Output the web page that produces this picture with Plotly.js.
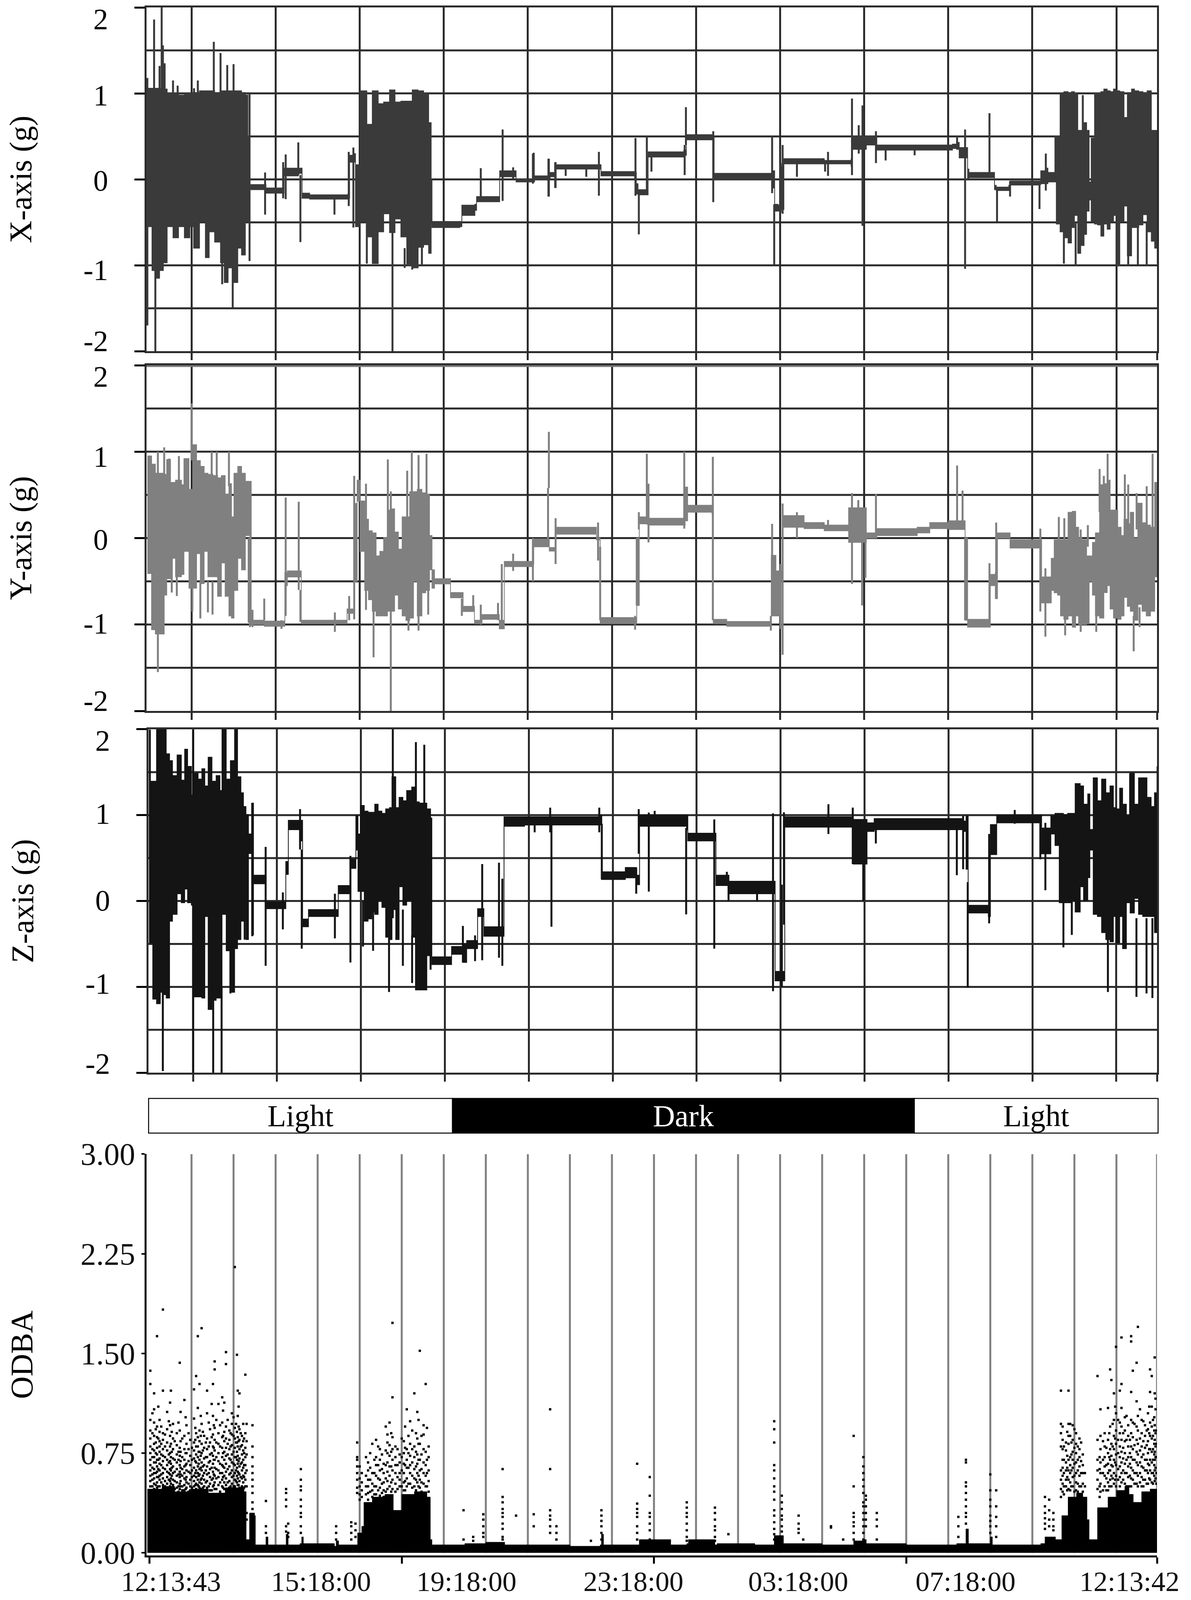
<!DOCTYPE html>
<html><head><meta charset="utf-8">
<script src="https://cdn.plot.ly/plotly-3.0.1.min.js"></script>
<style>html,body{margin:0;padding:0;background:#fff;overflow:hidden}</style></head>
<body><div id="chart" style="width:3048px"></div>
<script>
// ---------- shared labels ----------
const xTimeLabels = ['12:13:43','15:18:00','19:18:00','23:18:00','03:18:00','07:18:00','12:13:42'];
const xTimeLabelPos = [0.51,4.08,7.54,11.51,15.43,19.41,23.31];
const xMajorTicks = [0,6,12,18,23.965];
const panelGridHours = [1,3,5,7,9,11,13,15,17,19,21,23];
const odbaGridHours = [1,2,3,4,5,6,7,8,9,10,11,12,13,14,15,16,17,18,19,20,21,22,23,23.965];
const accelGrid = [-1.5,-1,-0.5,0,0.5,1,1.5];
const accelTicks = [-2,-1,0,1,2];
const accelTickText = ['2','1','0','-1','-2'];
const odbaTicks = [0,0.75,1.5,2.25,3];
const odbaTickText = ['0.00','0.75','1.50','2.25','3.00'];

// ---------- X-axis (g): envelope columns ----------
const xH  = [-.05,.06,.15,.24,.33,.42,.56,.69,.83,.96,1.05,1.19,1.33,1.42,1.55,1.69,1.78,1.87,1.98,2.10,2.19,2.28,2.34,2.36,2.73,2.77,3.15,3.2,3.54,3.63,3.81,4.72,4.76,4.87,4.90,5.01,5.17,5.30,5.44,5.57,5.71,5.84,5.98,6.12,6.25,6.39,6.52,6.64,6.70,6.72,7.38,7.43,7.74,7.78,8.28,8.33,8.65,8.72,9.11,9.16,9.49,9.53,9.65,9.67,10.66,10.74,11.54,11.58,11.62,11.83,11.86,12.71,12.77,13.4,13.43,14.77,14.81,14.87,14.95,15.0,15.09,16.05,16.69,16.71,17.05,17.28,17.3,19.1,19.2,19.26,19.46,19.49,19.97,20.1,20.14,20.44,20.47,21.17,21.2,21.35,21.37,21.55,21.57,21.66,21.75,21.85,21.93,22.0,22.08,22.15,22.23,22.29,22.35,22.40,22.48,22.55,22.63,22.70,22.78,22.85,22.93,23.0,23.08,23.18,23.26,23.36,23.43,23.53,23.63,23.73,23.83,23.91,23.97];
const xHi = [1.06,1.06,1.06,1.06,1.05,1.0,1.0,.98,1.0,1.0,1.01,1.03,1.03,1.03,1.01,1.03,1.03,1.03,1.03,1.03,1.01,.98,.5,-.06,-.06,-.10,-.10,.13,.13,-.16,-.18,-.17,.28,.3,.17,1.03,.64,1.03,.88,.9,1.04,.9,.91,.91,1.04,1.03,1.0,.66,0,-.49,-.49,-.3,-.29,-.2,-.2,.1,.1,0,0,.04,.04,.08,.08,.17,.17,.09,.08,-.05,-.12,-.13,.32,.34,.52,.5,.07,.07,.1,-.29,-.3,.15,.24,.22,.24,.5,.5,.51,.40,.41,.43,.37,.12,.08,.08,-.07,-.09,-.07,-.02,-.02,.1,.13,.08,.08,.5,1.0,1.02,1.01,1.02,1.0,.57,.57,.66,.57,-.03,.48,1.0,1.0,1.02,1.05,1.03,1.02,1.05,1.03,1.02,.72,1.01,1.05,1.03,1.02,1.01,1.03,.57,.57,.57];
const xLo = [-.55,-1.06,-1.15,-1.06,-.97,-.55,-.68,-.55,-.68,-.55,-.8,-.49,-.91,-.61,-.73,-.97,-1.2,-1.03,-1.2,-.8,-.88,-.49,-.49,-.12,-.12,-.16,-.16,.04,.07,-.22,-.23,-.22,.2,.2,-.55,-.49,-.67,-.98,-.61,-.4,-.62,-.46,-.67,-1.0,-1.03,-.79,-.76,-.86,-.5,-.56,-.55,-.42,-.36,-.26,-.26,.03,.03,-.03,-.03,0,0,.03,.03,.12,.12,.04,0,-.17,-.18,-.18,.26,.28,.46,.45,0,0,-.1,-.37,-.37,-.35,.18,.18,.15,.35,.4,.44,.34,.36,.35,.25,0,.02,.02,-.12,-.13,-.13,-.066,-.06,-.05,-.05,-.03,-.03,-.52,-.61,-.68,-.74,-.56,-.42,-.86,-.77,-.64,-.37,-.24,-.49,-.52,-.53,-.66,-.52,-.58,-.49,-.42,-1.0,-.49,-.31,-.89,-.56,-.56,-.53,-.41,-.61,-.72,-.8,-.98];
const xSpikes = [[.11,1,1.86],[.29,1,2],[.32,1,1.56],[.36,1,1.35],[.56,.9,1.15],[.67,.9,1.09],[1.15,.9,1.15],[1.53,.9,1.6],[1.69,.9,1.47],[1.85,.9,1.33],[2.0,.9,1.34],[-.05,-1.7,1.18],[.24,1,1.32],[1.06,.9,1.06],[.14,-2,-1],[1.98,-1.49,-1],[1.73,-1.22,-.9],[2.38,-.95,1],[2.75,-.41,.08],[3.18,-.22,.2],[3.24,-.23,.29],[3.54,.05,.43],[3.59,-.73,.05],[4.4,-.41,-.2],[4.74,-.31,.32],[4.85,-.56,.37],[5.78,-2,-.5],[5.17,-.98,-.5],[6.25,-1.05,-.8],[6.07,-1.03,-.8],[6.48,-1.0,-.7],[7.88,-.22,.13],[8.4,-.25,.58],[8.65,0,.14],[9.14,-.03,.31],[9.5,-.2,.24],[9.66,-.1,.2],[9.12,-.05,.3],[9.49,-.2,.24],[9.65,-.1,.2],[9.9,.04,.16],[10.39,.03,.16],[10.69,-.19,.32],[11.56,-.19,.48],[11.64,-.64,-.18],[11.83,-.18,.5],[11.94,.09,.3],[12.73,.05,.4],[12.76,.4,.84],[13.41,-.265,.56],[14.81,-.16,.5],[14.86,-.99,-.29],[15.01,-.385,.19],[15.06,-.4,.4],[15.4,.03,.2],[16.07,.09,.2],[16.14,.04,.32],[16.71,.05,.94],[16.87,.3,.63],[16.96,-.54,.86],[17.28,.19,.56],[17.51,.22,.36],[18.2,.28,.36],[19.21,.35,.5],[19.4,-1.04,.58],[19.98,.03,.77],[20.16,-.49,-.1],[20.47,-.2,-.02],[21.17,-.345,-.02],[21.32,-.13,.3],[21.55,-.03,.51],[21.75,-.98,-.5],[22.03,-1,-.5],[23.03,-1,-.5],[23.28,-1,-.5],[23.51,-.99,-.5],[23.72,-1,-.5],[22.2,.5,.98],[22.5,.5,1.0]];

// ---------- Y-axis (g): envelope columns ----------
const yH  = [-.05,.05,.14,.26,.35,.41,.5,.62,.76,.82,.94,1.03,1.12,1.21,1.3,1.39,1.51,1.62,1.71,1.8,1.89,1.95,2.01,2.10,2.19,2.28,2.39,2.42,2.73,3.16,3.22,3.28,3.55,3.61,4.70,4.85,4.88,4.94,5.01,5.12,5.21,5.3,5.39,5.48,5.57,5.66,5.74,5.83,5.92,6.01,6.1,6.19,6.28,6.37,6.48,6.57,6.66,6.72,6.78,7.14,7.16,7.43,7.46,7.7,7.73,7.88,7.91,8.29,8.32,8.41,8.44,8.9,9.11,9.14,9.49,9.51,9.65,9.67,10.63,10.72,11.54,11.59,11.65,11.83,11.88,12.71,12.74,12.8,13.38,13.41,13.73,14.77,14.79,14.9,14.98,15.06,15.09,15.57,16.05,16.63,17.05,17.25,17.3,18.26,18.56,19.01,19.36,19.4,19.46,19.99,20.0,20.12,20.17,20.47,21.17,21.22,21.4,21.45,21.52,21.6,21.67,21.75,21.85,21.95,22.03,22.1,22.18,22.29,22.35,22.43,22.5,22.6,22.7,22.78,22.85,22.93,23.03,23.11,23.18,23.26,23.33,23.41,23.51,23.61,23.71,23.81,23.91,23.97];
const yHi = [.95,.856,.75,.75,.737,.91,.644,.67,.617,.92,.564,1.08,.896,.83,.75,.737,.723,.697,.723,.51,.63,.245,.75,.83,.75,.657,.657,-.95,-.96,-.96,-.4,-.38,-.38,-.95,-.82,-.82,.4,.67,.43,.218,.085,.06,-.207,-.154,.005,.324,.338,.07,-.128,.245,.245,.537,.537,.564,.524,.51,.03,-.367,-.47,-.47,-.63,-.63,-.79,-.79,-.95,-.95,-.885,-.885,-.95,-.95,-.27,-.27,-.25,-.01,-.01,-.11,-.11,.125,.0,-.92,-.92,0,.245,.24,.23,.22,.59,.38,.36,-.94,-.965,-.965,-.2,-.38,-.38,.26,.26,.18,.15,.35,.06,.06,.11,.125,.18,.2,.2,0,-.94,-.94,-.55,-.4,.06,-.02,-.02,-.45,-.45,-.234,-.02,-.02,-.02,-.02,.298,.31,.125,0,-.02,-.207,-.207,-.05,.06,.617,.63,.67,.324,.324,.125,.03,.218,.165,.298,0,.404,.178,.15,.125,.644,.644];
const yLo = [-.41,-1.06,-1.11,-1.11,-.66,-.47,-.234,-.447,-.42,-.154,-.58,-.58,-.18,-.527,-.154,-.447,-.447,-.673,-.287,-.673,-.9,-.925,-.606,-.234,-.367,.03,.005,-1.0,-1.02,-1.02,-.55,-.45,-.45,-.99,-.87,-.87,-.5,.43,-.154,-.606,-.713,-.846,-.9,-.9,-.9,-.846,-.846,-.66,-.82,-.9,-.952,-.925,-.5,-.9,-.633,-.606,-.367,-.58,-.53,-.53,-.69,-.69,-.85,-.85,-.99,-.99,-.94,-.94,-1.05,-1.05,-.33,-.33,-.3,-.1,-.1,-.15,-.15,.045,-.02,-.99,-.99,-.78,.165,.16,.15,.15,.2,.3,.28,-.99,-1.02,-1.02,-.9,-.9,-.49,.125,.125,.11,.085,-.05,0,0,.03,.06,.11,.1,.1,-.95,-1.03,-1.03,-.42,-.7,0,-.115,-.115,-.75,-.75,-.606,-.633,-.66,-.9,-.94,-.9,-1.03,-.9,-1.0,-1.0,-.99,-.5,-.66,-.9,-.925,-.63,-.55,-.82,-.925,-.94,-.9,-.686,-.79,-.846,-.95,-.766,-.846,-.9,-.846,-.447,-.447];
const ySpikes = [[1.0,.9,1.56],[.2,-1.55,1.0],[.35,.7,1.05],[1.48,.7,1.0],[1.6,.7,1.0],[1.89,.6,1.0],[.7,.6,.95],[.47,.6,.92],[1.02,-.85,-.4],[1.21,-.93,-.5],[1.39,-.86,-.5],[1.5,-.885,-.5],[.53,-.63,-.2],[.65,-.67,-.4],[2.39,-1.03,.005],[2.36,-.98,0],[2.45,-1.03,-.83],[2.73,-.95,-.7],[3.14,-1.05,-.95],[3.24,-.9,.47],[3.55,-.6,.42],[3.59,-.97,-.6],[4.41,-1.085,-.86],[4.75,-.95,-.67],[4.87,-.94,.72],[5.15,-.83,.63],[5.33,-1.38,-.3],[5.67,-.3,.91],[5.74,-2,.54],[6.13,-.2,.78],[6.24,.2,1.0],[6.4,.3,.96],[6.59,.3,.976],[6.63,-.885,-.3],[6.16,-1.07,-.8],[6.4,-1.07,-.8],[7.43,-.9,-.7],[7.7,-.85,-.66],[7.88,-1,-.77],[8.29,-.95,-.75],[8.38,-1.05,-.3],[8.65,-.38,-.18],[9.12,-.5,0],[9.48,-.05,.58],[9.5,.58,1.23],[9.66,-.3,.23],[10.67,-.26,.18],[10.72,-.95,-.1],[11.55,-1.06,-.9],[11.59,-.78,0],[11.64,.1,.3],[11.83,.2,.976],[11.87,-.05,.63],[12.72,.11,1.0],[13.4,-.95,.94],[14.78,-1.07,-.9],[14.81,-.9,.165],[15.01,-1.05,-.3],[15.06,-1.35,.4],[15.4,0,.3],[16.14,.1,.21],[16.71,-.53,.52],[16.86,0,.44],[16.95,-.78,.3],[17.03,-.46,0],[17.28,.05,.51],[19.21,.2,.84],[19.34,.1,.55],[19.4,-.95,0],[19.98,-1,-.29],[20.14,-.55,.18],[21.19,-.85,.11],[21.31,-1.14,-.35],[21.63,-.1,.245],[21.76,-.1,.23],[21.78,-1.125,-.9],[22.15,-1.085,.1],[22.32,-.1,.15],[22.6,.3,.8],[22.7,.3,.72],[22.79,.3,.976],[22.52,-1.085,-.9],[23.2,.1,.737],[23.28,.1,.62],[23.41,-1.31,-.9],[23.48,.1,.52],[23.55,-1.03,-.8],[23.72,.1,.6],[23.86,.1,.976]];

// ---------- Z-axis (g): envelope columns ----------
const zH  = [-.05,.04,.13,.22,.31,.36,.44,.51,.62,.72,.8,.87,.96,1.02,1.12,1.21,1.28,1.36,1.45,1.55,1.64,1.69,1.79,1.89,1.99,2.06,2.14,2.2,2.26,2.32,2.4,2.44,2.71,2.73,3.15,3.21,3.27,3.54,3.61,3.75,4.34,4.46,4.73,4.76,4.85,4.88,4.93,4.99,5.08,5.17,5.26,5.33,5.41,5.5,5.59,5.68,5.74,5.83,5.91,6.0,6.09,6.21,6.3,6.39,6.48,6.57,6.66,6.69,7.13,7.16,7.4,7.43,7.52,7.72,7.78,7.87,7.93,8.26,8.41,8.9,10.71,10.74,11.3,11.56,11.64,12.76,12.79,13.4,13.46,13.72,13.77,14.81,14.87,14.98,15.1,16.68,16.73,17.0,17.06,17.2,17.23,19.35,19.42,19.47,19.95,20.0,20.15,21.19,21.22,21.36,21.44,21.54,21.64,21.74,21.84,21.94,22.02,22.14,22.22,22.32,22.37,22.45,22.55,22.65,22.75,22.85,22.93,23.0,23.08,23.15,23.24,23.33,23.43,23.53,23.63,23.73,23.83,23.91,23.97];
const zHi = [1.394,1.394,1.995,1.995,1.995,1.714,1.634,1.46,1.7,1.407,1.768,1.567,1.234,1.487,1.42,1.54,1.34,1.674,1.394,1.46,1.287,1.995,1.42,1.634,1.995,1.447,1.26,1.1,1.007,.78,1.14,.3,.3,-.01,-.01,.46,.94,.94,-.21,-.1,-.1,.18,.18,.486,.486,.993,.78,1.113,1.047,1.033,1.033,1.127,1.047,1.02,1.073,1.087,1.447,1.087,1.207,1.167,1.287,1.327,1.154,1.14,1.14,1.073,.967,-.65,-.65,-.53,-.53,-.5,-.46,-.46,-.09,-.09,-.3,-.3,.98,.98,1.0,.34,.39,.3,1.0,1.0,.79,.79,.3,.3,.23,.23,-.82,-.82,.98,.98,.95,.95,.91,.91,.96,.93,.99,-.05,-.09,.89,1.0,1.0,.85,.85,.993,1.02,1.02,1.007,1.02,1.02,1.367,1.34,1.127,1.247,.833,1.434,1.167,1.42,1.26,1.34,1.087,1.073,1.314,1.127,.993,1.487,1.127,1.434,1.434,1.207,1.1,1.26,1.567];
const zLo = [-.489,-1.143,-1.196,-1.063,-1.09,-1.13,-.235,-.155,.085,-.02,.139,-.02,-.048,-1.116,-1.116,-1.13,-.18,-1.263,-1.156,-1.13,-1.13,-.155,-.58,-1.063,-.555,-.449,-.235,-.235,-.449,.553,-.395,.2,.2,-.09,-.09,.31,.83,.7,-.3,-.18,-.18,.085,.085,.38,.38,.593,.112,.112,-.235,-.208,-.128,-.155,.005,-.075,-.422,-.449,-.1,-.449,.166,-.048,.005,-.422,-1.036,-1.036,-1.036,-.636,-.636,-.74,-.74,-.62,-.62,-.715,-.555,-.555,-.18,-.18,-.41,-.41,.87,.885,.885,.25,.27,.19,.87,.83,.7,.7,.18,.18,.085,.085,-.93,-.93,.86,.86,.43,.43,.81,.81,.83,.81,.37,-.14,-.18,.54,.91,.91,.55,.55,.78,.646,-.02,-.02,-.02,.005,-.128,.166,.005,.272,.593,-.155,-.18,-.368,-.449,-.475,-.18,-.489,-.18,-.555,-.02,-.14,.03,-.155,-.18,-.18,-.18,-.368,-.368];
const zSpikes = [[.28,-1.98,1.995],[1.48,-2,-1],[1.68,-2,-1],[1.0,-2,1.995],[1.89,-1.076,-.5],[-.03,.5,1.995],[2.41,-.41,1.14],[2.23,-.45,.2],[2.73,-.755,.63],[3.14,-.33,.1],[3.55,.6,1.07],[3.59,-.555,.6],[4.38,-.435,.085],[4.75,-.716,.526],[5.76,-.2,2.0],[5.67,-1.06,-.2],[6.31,-.5,1.85],[6.51,-.5,1.82],[5.29,-.58,0],[5.05,-.53,0],[6.0,-.755,-.1],[6.22,-.955,-.4],[6.66,-.8,-.2],[7.43,-.715,-.29],[7.72,-.7,-.4],[7.89,-.69,.43],[8.29,-.66,.446],[8.37,-.755,.26],[9.14,.8,.95],[9.51,.8,1.087],[9.54,-.3,.9],[10.68,.8,1.087],[10.74,.25,.9],[11.56,.085,.39],[11.62,.55,1.07],[11.86,.11,1.03],[12.0,.9,1.05],[12.75,-.155,.85],[13.42,-.555,.95],[13.72,.18,.34],[13.76,0,.2],[14.44,0,.1],[14.82,-1.05,1.02],[15.03,-1.0,.19],[15.08,-.275,1.033],[16.14,.78,1.127],[16.72,.43,1.087],[16.97,0,.6],[17.27,.67,.96],[19.2,.3,.9],[19.35,.37,.99],[19.46,-1.01,.22],[19.97,-.26,.78],[20.58,.9,1.06],[21.19,.486,1.0],[21.31,.125,.91],[21.74,-.54,0],[21.94,-.395,0],[22.8,-1.06,-.3],[23.18,-.555,0],[23.48,-1.116,-.2],[23.72,-1.076,-.2],[23.86,-1.13,-.2],[23.33,.2,1.487]];

// ---------- photoperiod ----------
const phaseNames = ['Light','Dark','Light'];
const phaseStart = [-0.03,7.22,18.18];
const phaseEnd = [7.22,18.18,24.0];

// ---------- ODBA: solid lower band ----------
const odbaCoreH   = [-.05,.3,.6,1,1.4,1.8,2.25,2.3,2.37,2.38,2.5,2.52,2.75,2.77,2.82,3.2,3.25,3.3,3.58,3.62,3.66,4.4,4.44,4.5,4.9,4.95,5.05,5.1,5.3,5.6,5.8,6.0,6.3,6.6,6.68,6.72,7.47,7.5,7.94,8.0,8.4,8.45,9.5,10.0,10.72,10.75,10.8,11.6,11.65,12.4,12.78,12.82,13.45,13.5,14.4,14.86,14.92,15.04,15.08,16.0,16.75,16.98,17.05,18.0,19.2,19.42,19.48,20.0,20.05,21.0,21.2,21.3,21.45,21.55,21.7,21.85,22.05,22.2,22.3,22.35,22.5,22.55,22.8,23.0,23.2,23.3,23.4,23.6,23.8,23.97];
const odbaCoreTop = [.48,.5,.46,.48,.45,.49,.46,.1,.1,.3,.28,.06,.06,.12,.06,.06,.14,.06,.07,.12,.07,.05,.09,.06,.06,.15,.2,.38,.42,.44,.32,.44,.46,.42,.1,.06,.06,.07,.07,.08,.08,.06,.06,.05,.06,.14,.06,.06,.1,.06,.07,.1,.06,.07,.06,.13,.13,.13,.07,.06,.09,.1,.07,.06,.07,.18,.07,.12,.06,.06,.07,.12,.12,.1,.28,.42,.45,.42,.25,.1,.1,.34,.42,.47,.5,.44,.38,.46,.48,.5];
// ---------- ODBA: separate dots, column by column [hour, y, y, ...] ----------
const odbaColumns = [
[.02,1.37,1.27,1.0,.92,.86,.8,.75,.7,.66,.62,.58,.54,.5,.47],[.11,1.2,1.08,.98,.88,.82,.77,.72,.68,.63,.6,.56,.52,.48],[.18,1.63,.95,.87,.79,.74,.7,.65,.61,.57,.53,.49],[.24,1.0,.91,.84,.8,.76,.71,.67,.62,.58,.55,.5,.47],[.32,1.83,1.22,.9,.85,.78,.73,.69,.64,.6,.56,.51,.48],[.42,1.06,.93,.83,.77,.7,.66,.61,.57,.52,.49],[.49,1.13,.96,.88,.8,.75,.69,.63,.59,.54,.5],[.51,1.22,.82,.72,.67,.62,.56,.52,.47],[.56,.97,.86,.78,.71,.65,.6,.55,.51],[.65,.9,.81,.74,.68,.63,.58,.53,.49],[.72,1.43,.92,.79,.73,.66,.61,.57,.52,.48],[.74,1.06,.84,.76,.69,.64,.59,.54,.5],[.83,1.15,.88,.78,.7,.65,.6,.56,.51,.47],[.88,.96,.82,.75,.67,.62,.57,.53,.49],[.97,.85,.73,.66,.6,.55,.5,.47],[1.06,1.23,1.01,.83,.77,.71,.64,.58,.54,.5],[1.11,1.33,.9,.8,.74,.68,.62,.57,.52,.48],[1.15,1.63,1.09,.87,.8,.72,.65,.6,.55,.51],[1.19,1.27,.92,.84,.76,.7,.63,.59,.53,.49],[1.24,1.69,.97,.82,.75,.68,.62,.56,.52],[1.3,.88,.79,.71,.66,.6,.55,.5],[1.37,1.22,1.05,.86,.78,.72,.65,.59,.54,.49],[1.44,.93,.83,.74,.69,.63,.57,.52,.47],[1.51,1.27,1.03,.89,.8,.73,.67,.61,.56,.5],[1.55,1.44,1.38,.94,.85,.77,.7,.64,.58,.53,.48],[1.64,1.12,.9,.82,.75,.69,.62,.57,.51],[1.73,1.17,.98,.87,.79,.72,.66,.6,.55,.5],[1.78,1.13,.91,.84,.76,.7,.64,.58,.53,.48],[1.82,1.42,1.51,.95,.86,.79,.73,.67,.61,.56,.51],[1.9,.92,.85,.78,.71,.65,.59,.54,.49],[1.96,1.05,.97,.89,.81,.74,.68,.62,.57,.52],[2.03,2.15,.94,.86,.79,.72,.66,.6,.55,.5],[2.08,1.49,.91,.83,.76,.7,.64,.58,.53,.48],[2.1,1.22,1.03,.87,.8,.73,.67,.61,.56,.51],[2.14,1.2,.93,.85,.78,.71,.65,.59,.54,.49],[2.2,.88,.81,.74,.68,.62,.56,.5],[2.23,.97,.84,.77,.7,.64,.58,.53,.48],[2.28,1.34,.9,.79,.72,.66,.6,.55,.5],
[.07,1.05,.9,.78,.72,.64,.59,.55,.5,.46],[.15,.93,.83,.75,.68,.6,.51,.47],[.21,1.1,.86,.7,.63,.57,.5,.46],[.28,.95,.82,.74,.66,.59,.53,.47],[.37,.89,.8,.72,.63,.54,.5,.46],[.46,.99,.74,.68,.6,.55,.47],[.53,.91,.76,.64,.58,.49,.46],[.6,.84,.7,.61,.54,.48],[.69,.98,.76,.7,.59,.5,.46],[.78,.86,.72,.63,.58,.5,.47],[.86,1.02,.75,.66,.55,.48],[.93,.9,.78,.69,.61,.52,.46],[1.01,.79,.7,.62,.57,.49],[1.09,.94,.85,.69,.6,.51,.46],[1.17,.76,.67,.58,.5,.47],[1.22,1.03,.88,.73,.64,.55,.48],[1.27,.91,.77,.65,.58,.49],[1.34,.83,.72,.62,.53,.47],[1.41,.98,.8,.68,.6,.5],[1.48,1.12,.87,.75,.64,.55,.47],[1.53,.96,.79,.7,.59,.51],[1.59,1.0,.83,.72,.63,.56,.48],[1.68,.96,.8,.67,.6,.53,.46],[1.75,1.07,.88,.75,.65,.57,.49],[1.86,1.0,.82,.74,.63,.53,.47],[1.93,.9,.8,.7,.6,.5,.46],[2.0,1.02,.88,.76,.67,.58,.5],[2.06,.97,.83,.72,.62,.54,.47],[2.12,1.1,.95,.84,.69,.6,.51],[2.17,.9,.8,.67,.57,.48],[2.25,.86,.75,.66,.57,.49],[2.31,.97,.84,.74,.62,.5,.3,.25],
[2.45,.96,.8,.72,.65,.6,.55,.5,.45,.38,.33],[2.77,.39,.2,.15],[3.25,.48,.45,.4,.35,.2,.16],[3.3,.22,.15,.12],[3.6,.63,.55,.5,.47,.4,.35,.3,.27,.2,.15],[4.44,.2,.15,.1],[4.8,.23,.2,.15,.1],[4.9,.22,.17,.12],
[4.94,.83,.72,.7,.65,.6,.55,.49,.45],[5.0,.65,.56,.5,.44,.4],[5.2,.68,.62,.55,.5,.45,.4],[5.3,.82,.6,.52,.47,.42],[5.39,.85,.72,.66,.58,.5,.44],[5.48,.78,.7,.62,.55,.49,.43],[5.57,.67,.6,.53,.47,.42],[5.66,.89,.83,.75,.68,.61,.54,.48],[5.71,.98,.81,.73,.65,.58,.5],[5.78,1.73,1.17,.87,.78,.7,.62,.55,.48],[5.85,.8,.72,.66,.6,.52,.46],[5.95,.74,.68,.6,.55,.5],[6.05,.84,.75,.67,.6,.53,.47],[6.12,1.08,.78,.7,.64,.56,.5],[6.2,.99,.82,.73,.66,.6,.52],[6.3,1.2,.8,.72,.63,.56,.5],[6.37,1.06,.86,.74,.67,.6,.53],[6.43,1.52,.82,.7,.62,.55,.49],[6.52,.96,.89,.78,.68,.6,.52],[6.57,1.27,.76,.66,.58,.5],[6.64,.8,.72,.62,.54,.46],
[5.05,.6,.53,.47,.42],[5.15,.72,.58,.5,.44],[5.25,.75,.64,.55,.46],[5.35,.7,.6,.5,.44],[5.44,.8,.66,.56,.47],[5.53,.74,.63,.52,.45],[5.62,.95,.77,.66,.56,.46],[5.75,.9,.76,.65,.53,.46],[5.9,.78,.66,.57,.48],[6.0,.86,.72,.62,.5],[6.08,.95,.79,.66,.54,.47],[6.16,.88,.75,.64,.52],[6.25,.92,.78,.68,.58,.49],[6.34,.9,.76,.65,.55,.47],[6.4,1.0,.82,.7,.58,.5],[6.47,.88,.74,.63,.53,.46],[6.6,.94,.7,.6,.5],
[7.47,.32,.1],[7.7,.12,.09],[7.94,.29,.25,.2,.15,.12],[8.4,.63,.42,.38,.33,.3,.27,.22,.18,.12,.1],[8.72,.28],[9.14,.29,.2],[9.53,1.08,.63,.32,.28,.25,.2,.15],[9.68,.2,.15,.1],[10.5,.09],
[10.75,.32,.28,.24,.2,.15,.1],[11.6,.67,.37,.33,.3,.27,.2,.15,.1],[11.9,.57,.43,.3,.27,.22,.17,.1],[12.78,.38,.34,.3,.27,.22,.17,.12,.09],[13.45,.34,.3,.25,.2,.17,.12,.09],[13.77,.14],[14.86,.99,.93,.83,.66,.62,.56,.5,.46,.4,.32,.28,.23,.18,.14,.1],[15.04,.43,.38,.33,.28,.25,.2,.16,.12,.08],[15.44,.28,.22,.18,.15],[15.55,.1],[16.21,.2,.19],[16.5,.1],[16.75,.88,.5,.3,.27,.23,.2,.15,.1],[16.98,.72,.65,.6,.55,.5,.45,.38,.35,.3,.25,.2,.15,.1],[17.04,.43,.4,.35,.3,.25,.2],[17.3,.3,.25,.2,.1],[19.24,.27,.2,.12],[19.42,.7,.68,.53,.5,.45,.4,.35,.3,.27,.22],[20.0,.59,.47,.4,.35,.28,.24,.2,.15],[20.14,.47,.35,.27,.2,.12],
[21.3,.42,.35,.3,.26,.22,.18],[21.4,.4,.32,.25,.2],[21.5,.3,.25,.2,.17],[21.68,1.22,.97,.9,.8,.62,.55,.48,.42],[21.72,.95,.85,.78,.7,.64,.58,.52,.46],[21.8,.83,.77,.68,.62,.55,.5],[21.86,1.22,.97,.88,.82,.7,.62,.55,.48],[21.9,.97,.88,.72,.66,.6,.53,.47],[21.96,.96,.85,.76,.7,.64,.57,.5],[22.04,.9,.82,.75,.68,.6,.53,.47],[22.12,.86,.78,.72,.65,.58,.5],[22.2,.74,.66,.6,.52,.46],
[21.75,.8,.7,.6,.5,.44],[21.83,.91,.73,.64,.57,.47],[21.93,.83,.74,.62,.5],[22.0,.93,.79,.67,.58,.46],[22.08,.8,.7,.62,.52,.46],[22.16,.83,.69,.6,.5],[22.25,.6,.5,.4,.32],
[22.55,1.33,.85,.7,.62,.55,.48],[22.62,1.08,.88,.78,.68,.6,.52,.46],[22.72,.9,.8,.72,.65,.58,.5],[22.8,1.09,.85,.75,.67,.6,.53,.47],[22.85,1.38,.95,.78,.7,.62,.55],[22.88,1.3,.82,.73,.66,.58,.5],[22.94,1.2,1.0,.88,.78,.7,.6,.52],[22.99,1.55,1.05,.92,.82,.74,.66,.58,.5],[23.08,1.22,.98,.9,.8,.72,.65,.57,.5],[23.12,1.62,1.27,1.09,.95,.85,.76,.68,.6,.53],[23.2,1.02,.92,.84,.75,.67,.6,.52],[23.28,.96,.88,.8,.72,.65,.57,.5],[23.35,1.63,1.59,1.21,1.0,.9,.8,.72,.64,.56,.5],[23.39,1.37,.98,.87,.78,.7,.62,.55],[23.48,1.43,1.14,.95,.85,.76,.68,.6,.52],[23.51,1.7,1.03,.92,.82,.74,.66,.58,.5],[23.6,1.0,.9,.8,.72,.65,.57,.5],[23.68,.96,.88,.79,.7,.62,.55],[23.75,1.05,.93,.84,.75,.67,.6,.52],[23.8,1.38,1.21,.98,.88,.78,.7,.62,.55],[23.84,1.33,1.1,.95,.86,.76,.68,.6,.53],[23.9,1.02,.92,.82,.74,.66,.58],[23.91,1.47,1.2,.96,.85,.76,.7,.62,.54],[23.93,1.16,1.08,.9,.8,.72,.64,.56],
[22.6,.72,.63,.5,.42],[22.68,.84,.7,.6,.47],[22.76,.79,.66,.56,.47],[22.83,.9,.72,.62,.5],[22.91,.97,.8,.65,.56],[22.97,1.1,.86,.68,.55],[23.04,1.0,.85,.75,.63,.55],[23.16,.9,.79,.71,.62,.55],[23.24,1.03,.85,.7,.6,.5],[23.32,.85,.75,.67,.58,.5],[23.43,.97,.81,.7,.6,.52],[23.56,1.08,.86,.77,.68,.6,.53],[23.64,.99,.84,.74,.64,.55,.5],[23.72,.92,.81,.7,.62,.52],[23.78,1.1,.9,.78,.66,.56],[23.87,1.0,.88,.78,.7,.6,.52],[23.95,.92,.82,.72,.6,.52]
];

// ---------- layout helpers ----------
// Positions below are measured on the 3048x5156 reference; the browser window may be shorter,
// so the vertical measures are fractions of the reference height and the chart fills the window.
const W = 3048, REF_H = 5156, H = Math.min(REF_H, window.innerHeight || REF_H);
document.getElementById('chart').style.height = H + 'px';
const domX = (l, r) => [l / W, r / W];
const domY = (t, b) => [1 - b / REF_H, 1 - t / REF_H];
const SERIF = '"Liberation Serif","Times New Roman",serif';
const LINE = '#2b2b2b';

// Each value holds from its hour to the next hour, on both edges of the band.
function bodyTrace(h, hi, lo, color, xa, ya) {
  const px = [], up = [], dn = [];
  h.forEach((t, i) => {
    const next = i + 1 < h.length ? h[i + 1] : t;
    px.push(t, next); up.push(hi[i], hi[i]); dn.push(lo[i], lo[i]);
  });
  return {type:'scatter', mode:'lines', xaxis:xa, yaxis:ya, hoverinfo:'skip',
    x: px.concat(px.slice().reverse()), y: up.concat(dn.slice().reverse()),
    fill:'toself', fillcolor:color, line:{color:color, width:2}};
}
function spikeTrace(spikes, color, xa, ya) {
  const x = [], y = [];
  spikes.forEach(s => { x.push(s[0], s[0], null); y.push(s[1], s[2], null); });
  return {type:'scatter', mode:'lines', xaxis:xa, yaxis:ya, hoverinfo:'skip', x, y,
    connectgaps:false, line:{color:color, width:5}};
}
const odbaDotH = [], odbaDotY = [];
odbaColumns.forEach(c => c.slice(1).forEach(v => { odbaDotH.push(c[0]); odbaDotY.push(v); }));

const COL1 = '#3a3a3a', COL2 = '#808080', COL3 = '#141414';
const data = [
  spikeTrace(xSpikes, COL1, 'x', 'y'), bodyTrace(xH, xHi, xLo, COL1, 'x', 'y'),
  spikeTrace(ySpikes, COL2, 'x2', 'y2'), bodyTrace(yH, yHi, yLo, COL2, 'x2', 'y2'),
  spikeTrace(zSpikes, COL3, 'x3', 'y3'), bodyTrace(zH, zHi, zLo, COL3, 'x3', 'y3'),
  {type:'bar', orientation:'h', xaxis:'x5', yaxis:'y5', y:[0,0,0], base:phaseStart,
   x:phaseEnd.map((e,i)=>e-phaseStart[i]), text:phaseNames, textposition:'inside', insidetextanchor:'middle',
   constraintext:'none', textangle:0, cliponaxis:false, hoverinfo:'skip', width:1,
   textfont:{family:SERIF, size:78, color:['#000','#fff','#000']},
   marker:{color:['#fff','#000','#fff'], line:{color:'#000', width:5}}},
  {type:'scatter', mode:'lines', xaxis:'x4', yaxis:'y4', hoverinfo:'skip',
   x:odbaCoreH, y:odbaCoreTop, fill:'tozeroy', fillcolor:'#000', line:{color:'#000', width:1, shape:'hv'}},
  {type:'scatter', mode:'markers', xaxis:'x4', yaxis:'y4', hoverinfo:'skip',
   x:odbaDotH, y:odbaDotY, marker:{symbol:'square', size:6, color:'#000'}}
];

function accelX(domain, range, anchor) {
  return {domain, range, anchor, showline:true, mirror:true, linecolor:LINE, linewidth:5,
    tickmode:'array', tickvals:panelGridHours.concat([range[1]]), ticktext:panelGridHours.concat([range[1]]).map(()=>''),
    showticklabels:false, ticks:'outside', ticklen:18, tickwidth:5, tickcolor:LINE,
    showgrid:true, gridcolor:LINE, gridwidth:5, zeroline:false};
}
function accelY(domain, title, labelPos, anchor) {
  return {domain, range:[-2,2], anchor, showline:true, mirror:true, linecolor:LINE, linewidth:5,
    tickmode:'array', tickvals:labelPos, ticktext:accelTickText, ticks:'', ticklabelstandoff:78,
    tickfont:{family:SERIF, size:76, color:'#000'}, showgrid:false, zeroline:false,
    minor:{tickmode:'array', tickvals:accelTicks, ticks:'outside', ticklen:26, tickwidth:5, tickcolor:'#000', showgrid:false},
    title:{text:title, font:{family:SERIF, size:80, color:'#000'}, standoff:108}};
}
function gridShapes(xa, ya) {
  return accelGrid.map(v => ({type:'line', layer:'below', xref:xa+' domain', x0:0, x1:1, yref:ya, y0:v, y1:v,
    line:{color:LINE, width:5}}));
}

const shapes = [].concat(gridShapes('x','y'), gridShapes('x2','y2'), gridShapes('x3','y3'),
  odbaGridHours.map(h => ({type:'line', layer:'below', xref:'x4', x0:h, x1:h, yref:'y4', y0:0, y1:3,
    line:{color:'#808080', width:5}})),
  [{type:'line', layer:'above', xref:'x2 domain', x0:0, x1:1, yref:'y2', y0:2, y1:2, line:{color:'#777', width:9}}]);

const layout = {
  width:W, height:H, autosize:false, showlegend:false, paper_bgcolor:'#fff', plot_bgcolor:'#fff',
  margin:{l:0,r:0,t:0,b:0,pad:0}, bargap:0, barmode:'overlay', font:{family:SERIF, color:'#000'}, shapes,
  xaxis: accelX(domX(375,2961),[-0.07,23.965],'y'),
  yaxis: accelY(domY(24,1132),'X-axis (g)',[1.865,.98,-.01,-1.05,-1.88],'x'),
  xaxis2:accelX(domX(375,2961),[-0.07,23.965],'y2'),
  yaxis2:accelY(domY(1177,2291),'Y-axis (g)',[1.87,.947,-.014,-.984,-1.88],'x2'),
  xaxis3:accelX(domX(380,2961),[-0.062,23.97],'y3'),
  yaxis3:accelY(domY(2350,3457),'Z-axis (g)',[1.87,1.018,.01,-.96,-1.89],'x3'),
  xaxis4:{domain:domX(375,2961), range:[-0.07,23.965], anchor:'y4', showline:true, linecolor:'#000', linewidth:5, showgrid:false, zeroline:false,
    tickmode:'array', tickvals:xTimeLabelPos, ticktext:xTimeLabels, ticks:'', ticklabelstandoff:0,
    tickfont:{family:SERIF, size:72, color:'#111'},
    minor:{tickmode:'array', tickvals:xMajorTicks, ticks:'outside', ticklen:16, tickwidth:5, tickcolor:'#000', showgrid:false}},
  yaxis4:{domain:domY(3719,5012), range:[-0.0187,3], anchor:'x4', showline:true, linecolor:'#000', linewidth:5, showgrid:false, zeroline:false,
    tickmode:'array', tickvals:odbaTicks, ticktext:odbaTickText, ticks:'outside', ticklen:8, tickwidth:4, tickcolor:'#000',
    tickfont:{family:SERIF, size:80, color:'#111'},
    title:{text:'ODBA', font:{family:SERIF, size:80, color:'#000'}, standoff:98}},
  xaxis5:{domain:domX(379,2965), range:[-0.03,24.0], anchor:'y5', visible:false, fixedrange:true},
  yaxis5:{domain:domY(3538,3653), range:[-0.5,0.5], anchor:'x5', visible:false, fixedrange:true}
};
Plotly.newPlot('chart', data, layout, {staticPlot:true, displayModeBar:false});
</script></body></html>
